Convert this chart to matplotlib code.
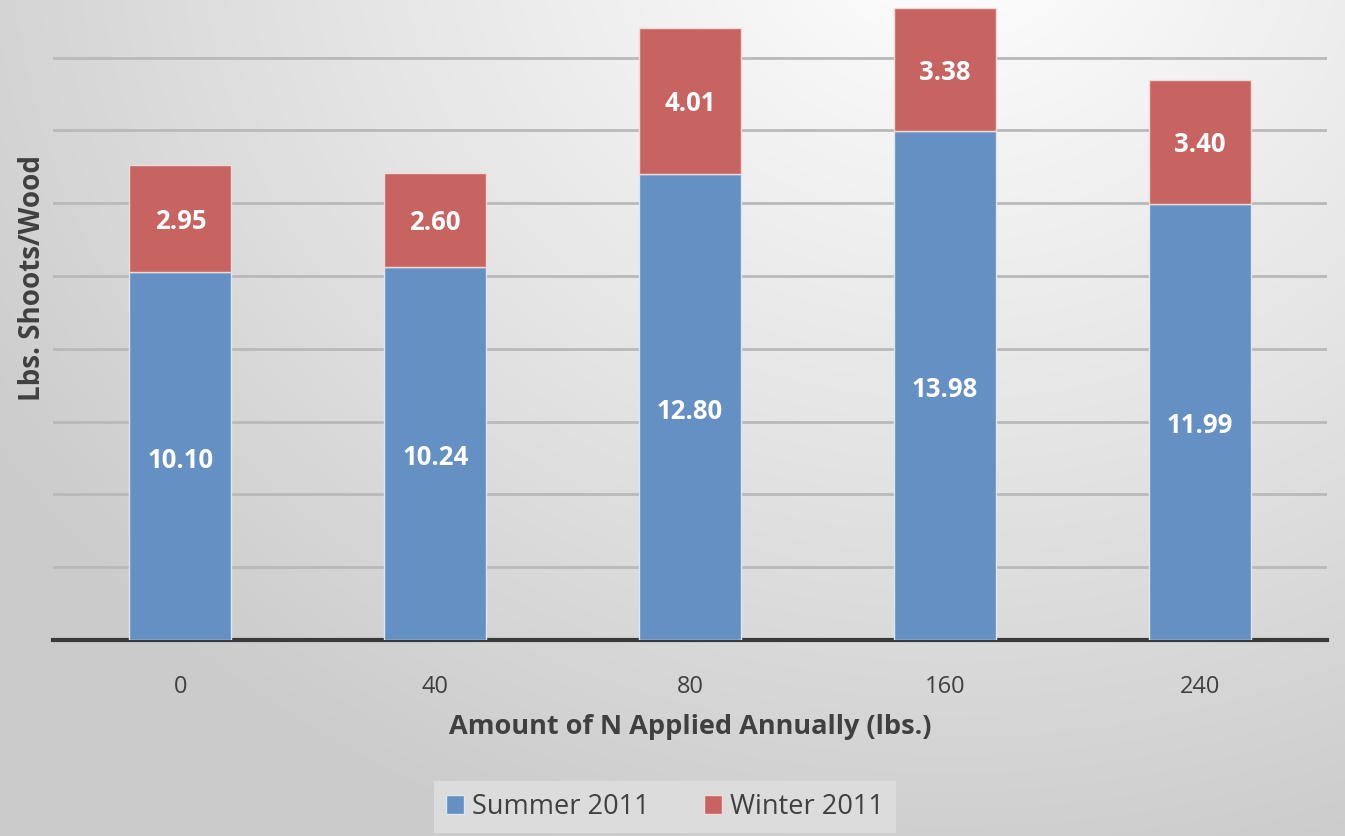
import numpy as np
import matplotlib.pyplot as plt
from matplotlib.colors import LinearSegmentedColormap

plt.rcParams['font.family'] = ['Open Sans', 'DejaVu Sans']

categories = ["0", "40", "80", "160", "240"]
summer = [10.10, 10.24, 12.80, 13.98, 11.99]
winter = [2.95, 2.60, 4.01, 3.38, 3.40]
series_names = ["Summer 2011", "Winter 2011"]

W, H = 1345, 836
fig = plt.figure(figsize=(W / 100, H / 100), dpi=100)

# radial grey background, brightest near the upper right
bg = fig.add_axes([0, 0, 1, 1], zorder=-10)
yy, xx = np.mgrid[0:H, 0:W]
cx, cy = 950, -80
r = np.sqrt((xx - cx) ** 2 + ((yy - cy) * 1.15) ** 2)
r = np.clip(r / 1150, 0, 1)
cmap = LinearSegmentedColormap.from_list("bg", ["#fbfbfb", "#e4e4e4", "#cbcbcb"])
bg.imshow(r, cmap=cmap, aspect="auto", extent=[0, W, H, 0], interpolation="bilinear")
bg.set_axis_off()

ax = fig.add_axes([53 / W, (H - 640) / H, (1327 - 53) / W, 640 / H])
ax.set_facecolor("none")
x = np.arange(len(categories))
bw = 0.4
blue = "#6590c4"
red = "#c76461"
ax.bar(x, summer, width=bw, color=blue, edgecolor="#dfe6f0", linewidth=1, zorder=3,
       label=series_names[0])
ax.bar(x, winter, width=bw, bottom=summer, color=red, edgecolor="#f0dada", linewidth=1,
       zorder=3, label=series_names[1])

# value labels centred in each segment, nudged slightly down
for i in range(len(categories)):
    ax.annotate(f"{summer[i]:.2f}", (x[i], summer[i] / 2), xytext=(0, -3),
                textcoords="offset points", ha="center", va="center",
                color="white", fontsize=18.5, fontweight="bold", zorder=4)
    ax.annotate(f"{winter[i]:.2f}", (x[i], summer[i] + winter[i] / 2), xytext=(0, -2),
                textcoords="offset points", ha="center", va="center",
                color="white", fontsize=18.5, fontweight="bold", zorder=4)

ax.set_xlim(-0.5, 4.5)
ax.set_ylim(0, 17.58)
ax.set_yticks(np.arange(2, 17, 2))
ax.yaxis.grid(True, color="#b9b9b9", linewidth=2)
ax.set_axisbelow(True)
ax.tick_params(axis="y", left=False, labelleft=False)
ax.tick_params(axis="x", bottom=False, labelsize=17, labelcolor="#404040", pad=22)
ax.set_xticks(x)
ax.set_xticklabels(categories)
for s in ["top", "right", "left"]:
    ax.spines[s].set_visible(False)
ax.spines["bottom"].set_color("#3a3a3a")
ax.spines["bottom"].set_linewidth(3)

fig.text(690 / W, 1 - 727 / H, "Amount of N Applied Annually (lbs.)", ha="center",
         va="center", fontsize=19.5, fontweight="bold", color="#404040")
fig.text(33 / W, 1 - 278 / H, "Lbs. Shoots/Wood", ha="center", va="center",
         rotation=90, fontsize=20, fontweight="bold", color="#404040")

leg = fig.legend(loc="center", bbox_to_anchor=(665 / W, 1 - 807 / H), ncol=2,
                 fontsize=19.5, frameon=True, fancybox=False, handlelength=0.65,
                 handleheight=0.65, handletextpad=0.3, columnspacing=2.0,
                 borderpad=0.45)
leg.get_frame().set_facecolor("#dcdcdc")
leg.get_frame().set_edgecolor("none")
leg.get_frame().set_alpha(1)
for t in leg.get_texts():
    t.set_color("#404040")

fig.savefig("out.png", dpi=100)
